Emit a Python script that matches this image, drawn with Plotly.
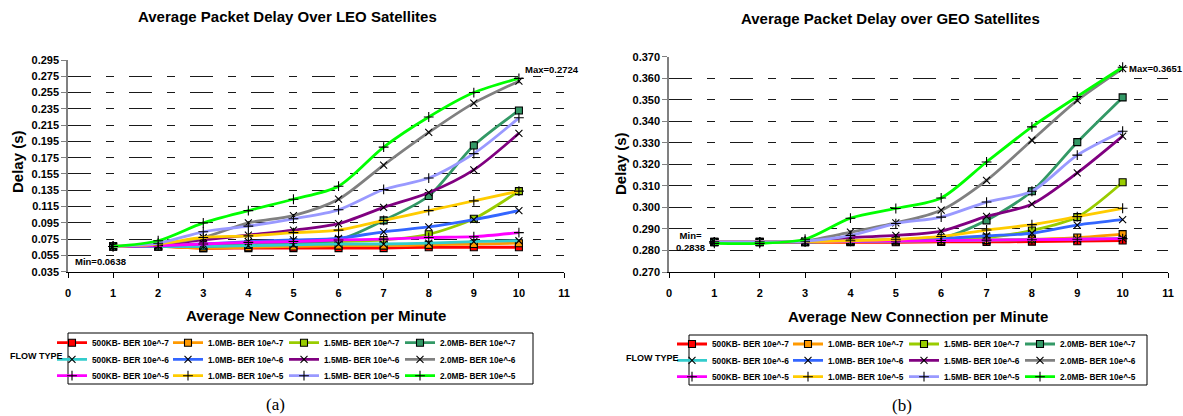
import plotly.graph_objects as go

x_vals = [1, 2, 3, 4, 5, 6, 7, 8, 9, 10]

flow_names = [
    "500KB- BER 10e^-7", "1.0MB- BER 10e^-7", "1.5MB- BER 10e^-7", "2.0MB- BER 10e^-7",
    "500KB- BER 10e^-6", "1.0MB- BER 10e^-6", "1.5MB- BER 10e^-6", "2.0MB- BER 10e^-6",
    "500KB- BER 10e^-5", "1.0MB- BER 10e^-5", "1.5MB- BER 10e^-5", "2.0MB- BER 10e^-5",
]
flow_colors = [
    "#FF0000", "#FF9900", "#99CC00", "#339966",
    "#33CCCC", "#3366FF", "#800080", "#808080",
    "#FF00FF", "#FFCC00", "#9999FF", "#00FF00",
]
flow_symbols = ["square"] * 4 + ["x-thin"] * 4 + ["cross-thin"] * 4

# LEO delay (s)
leo_500k_7 = [0.066, 0.066, 0.0638, 0.064, 0.064, 0.064, 0.064, 0.065, 0.065, 0.065]
leo_1m_7 = [0.066, 0.066, 0.064, 0.065, 0.066, 0.067, 0.067, 0.068, 0.069, 0.070]
leo_15m_7 = [0.066, 0.066, 0.067, 0.069, 0.071, 0.072, 0.074, 0.081, 0.100, 0.134]
leo_2m_7 = [0.066, 0.066, 0.066, 0.068, 0.070, 0.074, 0.098, 0.128, 0.190, 0.233]
leo_500k_6 = [0.066, 0.066, 0.066, 0.067, 0.068, 0.069, 0.069, 0.070, 0.072, 0.073]
leo_1m_6 = [0.066, 0.067, 0.069, 0.072, 0.074, 0.076, 0.084, 0.090, 0.099, 0.110]
leo_15m_6 = [0.066, 0.068, 0.074, 0.080, 0.086, 0.094, 0.114, 0.132, 0.160, 0.205]
leo_2m_6 = [0.066, 0.069, 0.077, 0.095, 0.104, 0.124, 0.166, 0.206, 0.242, 0.269]
leo_500k_5 = [0.066, 0.067, 0.069, 0.071, 0.072, 0.074, 0.075, 0.077, 0.078, 0.083]
leo_1m_5 = [0.066, 0.069, 0.077, 0.079, 0.083, 0.086, 0.098, 0.110, 0.122, 0.134]
leo_15m_5 = [0.066, 0.070, 0.084, 0.091, 0.100, 0.111, 0.136, 0.150, 0.180, 0.224]
leo_2m_5 = [0.066, 0.073, 0.095, 0.110, 0.124, 0.140, 0.188, 0.225, 0.255, 0.2724]

# GEO delay (s)
geo_500k_7 = [0.2838, 0.2838, 0.2838, 0.2838, 0.2838, 0.2840, 0.2840, 0.2841, 0.2843, 0.2846]
geo_1m_7 = [0.2838, 0.2838, 0.2838, 0.2840, 0.2842, 0.2845, 0.2848, 0.2852, 0.2860, 0.2876]
geo_15m_7 = [0.2840, 0.2840, 0.2840, 0.2843, 0.2847, 0.2853, 0.2860, 0.2893, 0.2955, 0.3117]
geo_2m_7 = [0.2840, 0.2840, 0.2840, 0.2845, 0.2850, 0.2857, 0.2940, 0.3075, 0.3303, 0.3511]
geo_500k_6 = [0.2840, 0.2840, 0.2840, 0.2842, 0.2844, 0.2846, 0.2848, 0.2850, 0.2853, 0.2856]
geo_1m_6 = [0.2840, 0.2840, 0.2840, 0.2843, 0.2846, 0.2855, 0.2868, 0.2880, 0.2918, 0.2943]
geo_15m_6 = [0.2840, 0.2840, 0.2842, 0.2860, 0.2870, 0.2890, 0.2958, 0.3015, 0.3160, 0.3331]
geo_2m_6 = [0.2840, 0.2840, 0.2845, 0.2885, 0.2928, 0.2987, 0.3126, 0.3312, 0.3497, 0.3645]
geo_500k_5 = [0.2840, 0.2840, 0.2840, 0.2842, 0.2844, 0.2846, 0.2848, 0.2850, 0.2852, 0.2855]
geo_1m_5 = [0.2840, 0.2840, 0.2841, 0.2845, 0.2852, 0.2865, 0.2895, 0.2920, 0.2957, 0.2996]
geo_15m_5 = [0.2840, 0.2840, 0.2843, 0.2870, 0.2925, 0.2955, 0.3025, 0.3075, 0.3243, 0.3354]
geo_2m_5 = [0.2833, 0.2833, 0.2852, 0.2950, 0.2995, 0.3044, 0.3211, 0.3374, 0.3515, 0.3651]

leo_series = [leo_500k_7, leo_1m_7, leo_15m_7, leo_2m_7,
              leo_500k_6, leo_1m_6, leo_15m_6, leo_2m_6,
              leo_500k_5, leo_1m_5, leo_15m_5, leo_2m_5]
geo_series = [geo_500k_7, geo_1m_7, geo_15m_7, geo_2m_7,
              geo_500k_6, geo_1m_6, geo_15m_6, geo_2m_6,
              geo_500k_5, geo_1m_5, geo_15m_5, geo_2m_5]

FONT = "Liberation Sans"
W, H = 1183, 416


def px_x(p):
    return p / W


def px_y(p):
    return 1 - p / H


fig = go.Figure()

# legend frames, drawn on a hidden full-page base axis (pixel units), drawn first
frame_x = [68, 533, 533, 68, 68, None, 689, 1147, 1147, 689, 689]
frame_y = [333, 333, 384, 384, 333, None, 335, 335, 385, 385, 335]
fig.add_trace(go.Scatter(x=frame_x, y=frame_y, mode="lines", xaxis="x", yaxis="y",
                         line=dict(color="black", width=1), showlegend=False,
                         hoverinfo="skip"))


def add_traces(series, xa, ya, legs):
    for i, (name, col, sym, vals) in enumerate(zip(flow_names, flow_colors, flow_symbols, series)):
        fig.add_trace(go.Scatter(
            x=x_vals, y=vals, name=name, mode="lines+markers",
            xaxis=xa, yaxis=ya, legend=legs[i // 4],
            line=dict(color=col, width=2.8, shape="spline", smoothing=0.8),
            marker=dict(symbol=sym, size=7, color=col,
                        line=dict(color="black", width=1.1)),
        ))


add_traces(leo_series, "x2", "y2", ["legend", "legend2", "legend3"])
add_traces(geo_series, "x3", "y3", ["legend4", "legend5", "legend6"])

grid_dash = "23px,15px,8px,15px"
tickfont = dict(family=FONT, size=11, color="black", weight="bold")

xcommon = dict(range=[0, 11], dtick=1, tick0=0, showgrid=False, zeroline=False,
               showline=True, linecolor="black", linewidth=1, ticks="outside",
               ticklen=5, tickcolor="black", tickfont=tickfont, ticklabelstandoff=6)
ycommon = dict(showgrid=True, gridcolor="#1a1a1a", gridwidth=1, griddash=grid_dash,
               zeroline=False, showline=True, linecolor="#808080", linewidth=1.5,
               ticks="outside", ticklen=5, tickcolor="#808080", tickfont=tickfont)

legcommon = dict(orientation="h", xanchor="left", yanchor="middle",
                 borderwidth=0, bgcolor="rgba(0,0,0,0)",
                 font=dict(family=FONT, size=8.3, color="black", weight="bold"),
                 entrywidth=71, entrywidthmode="pixels", itemwidth=30,
                 traceorder="normal")

left_rows = [342.7, 359.3, 375.7]
right_rows = [344.0, 360.3, 376.7]
legends = {}
for k, yy in enumerate(left_rows):
    key = "legend" if k == 0 else f"legend{k + 1}"
    legends[key] = dict(x=px_x(52), y=px_y(yy), **legcommon)
for k, yy in enumerate(right_rows):
    legends[f"legend{k + 4}"] = dict(x=px_x(672), y=px_y(yy), **legcommon)

fig.update_layout(
    width=W, height=H, margin=dict(l=0, r=0, t=0, b=0, autoexpand=False),
    paper_bgcolor="white", plot_bgcolor="white",
    xaxis=dict(domain=[0, 1], range=[0, W], visible=False, fixedrange=True, anchor="y"),
    yaxis=dict(domain=[0, 1], range=[H, 0], visible=False, fixedrange=True, anchor="x"),
    xaxis2=dict(domain=[px_x(68), px_x(564)], anchor="y2", **xcommon),
    yaxis2=dict(domain=[px_y(271.7), px_y(60)], anchor="x2", range=[0.035, 0.295],
                dtick=0.02, tick0=0.035, tickformat=".3f", **ycommon),
    xaxis3=dict(domain=[px_x(669), px_x(1168)], anchor="y3", **xcommon),
    yaxis3=dict(domain=[px_y(272), px_y(56.7)], anchor="x3", range=[0.270, 0.370],
                dtick=0.01, tick0=0.27, tickformat=".3f", **ycommon),
    showlegend=True,
    **legends,
)


def ann(text, x, y, size, xref="paper", yref="paper", xanchor="center",
        yanchor="middle", angle=0, family=FONT, weight="bold", align="center"):
    fig.add_annotation(text=text, x=x, y=y, xref=xref, yref=yref,
                       xanchor=xanchor, yanchor=yanchor, showarrow=False,
                       textangle=angle, align=align,
                       font=dict(family=family, size=size, color="black", weight=weight))


ann("Average Packet Delay Over LEO Satellites", px_x(287), px_y(17), 15)
ann("Average Packet Delay over GEO Satellites", px_x(890), px_y(19), 15)
ann("Delay (s)", px_x(18), px_y(162), 15, angle=-90)
ann("Delay (s)", px_x(620), px_y(163), 15, angle=-90)
ann("Average New Connection per Minute", px_x(316), px_y(315.7), 15)
ann("Average New Connection per Minute", px_x(918), px_y(316.7), 15)
ann("FLOW TYPE", px_x(36), px_y(356), 9)
ann("FLOW TYPE", px_x(652), px_y(358), 9)
ann("(a)", px_x(275), px_y(404), 17, family="Liberation Serif", weight="normal")
ann("(b)", px_x(902), px_y(405), 17, family="Liberation Serif", weight="normal")
ann("Max=0.2724", 10.1, 0.283, 9.5, xref="x2", yref="y2", xanchor="left")
ann("Min=0.0638", 0.12, 0.0473, 9.5, xref="x2", yref="y2", xanchor="left")
ann("Max=0.3651", 10.1, 0.3646, 9.5, xref="x3", yref="y3", xanchor="left")
ann("Min=<br>0.2838", px_x(690), px_y(241.5), 9.5)

fig.write_html(
    "out.html",
    config={"displayModeBar": False},
    post_script=("document.body.style.margin='0';"
                 "document.body.style.overflow='hidden';"
                 "document.documentElement.style.overflow='hidden';"),
)
